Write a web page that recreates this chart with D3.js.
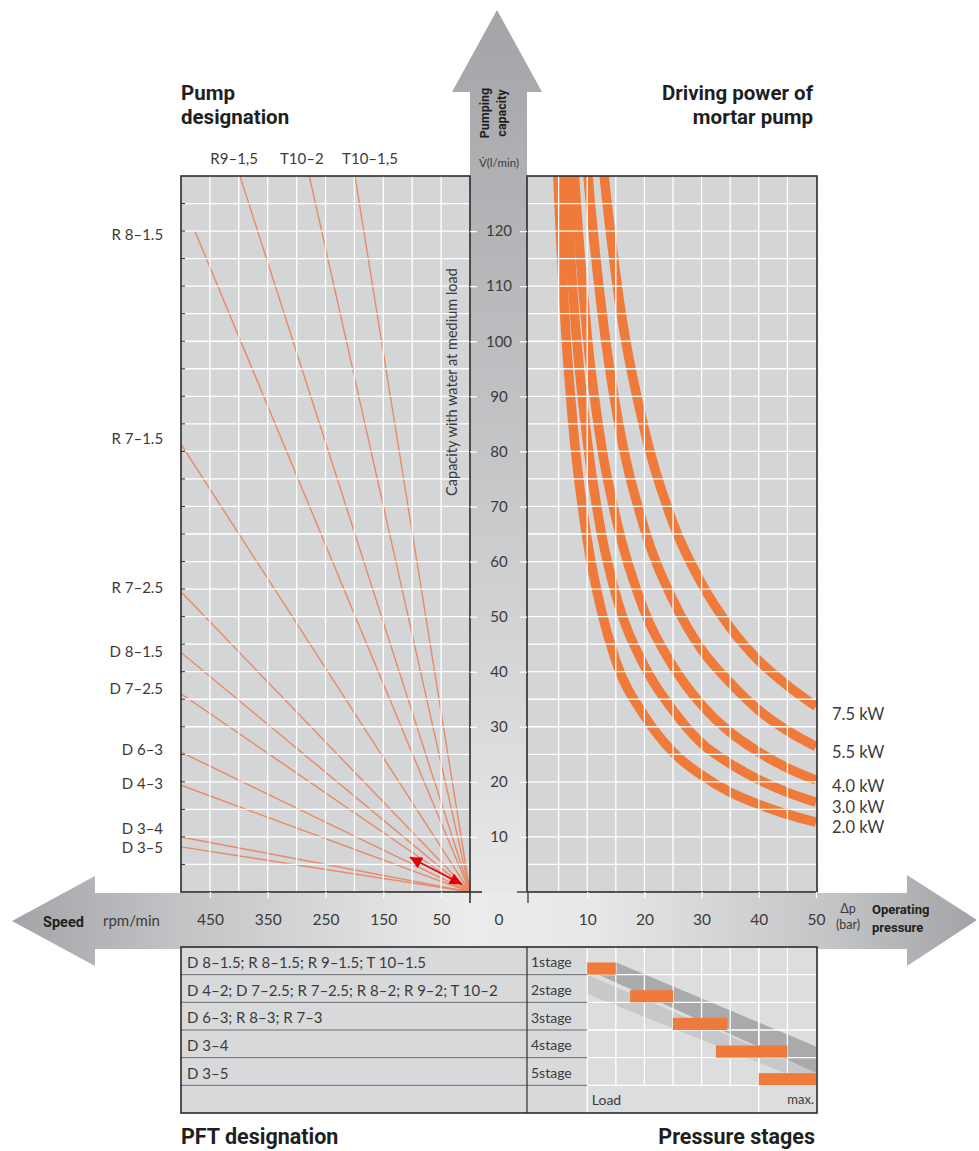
<!DOCTYPE html>
<html>
<head>
<meta charset="utf-8">
<script src="https://cdn.jsdelivr.net/npm/d3@7"></script>
<style>
body { margin: 0; background: #fff; }
svg text { font-family: Lato, "Open Sans", sans-serif; fill: #3b3b3b; }
svg text.ttl { font-family: Roboto, sans-serif; font-weight: 700; fill: #1f1f1f; }
</style>
</head>
<body>
<svg id="chart" width="979" height="1151"></svg>
<script>
"use strict";
// tick labels
const speedTicks = [450, 350, 250, 150, 50];
const pressureTicks = [10, 20, 30, 40, 50];
const capacityTicks = [10, 20, 30, 40, 50, 60, 70, 80, 90, 100, 110, 120];

// pump lines: end point of each line (rpm, l/min)
const pumpNames = ["R9\u20131,5", "T10\u20132", "T10\u20131,5", "R 8\u20131.5", "R 7\u20131.5", "R 7\u20132.5", "D 8\u20131.5", "D 7\u20132.5", "D 6\u20133", "D 4\u20133", "D 3\u20134", "D 3\u20135"];
const pumpEndRpm = [398, 278, 199, 476, 500, 500, 500, 500, 500, 500, 500, 500];
const pumpEndQ = [130, 130, 130, 120, 81.3, 54.5, 43.5, 36, 25.4, 19.4, 10, 8.2];
const pumpLabelRpm = [408, 291, 173, 531, 531, 531, 531, 531, 531, 531, 531, 531];
const pumpLabelQ = [133.2, 133.2, 133.2, 119.5, 82.5, 55.3, 43.8, 37, 26, 19.7, 11.6, 8.2];

// driving power curves (bar, l/min)
const kwLabels = ["7.5 kW", "5.5 kW", "4.0 kW", "3.0 kW", "2.0 kW"];
const kwLabelQ = [32.4, 25.5, 19.2, 15.4, 11.8];
const kw75 = [[11.5, 147], [12.5, 135], [15, 112], [20, 84], [25, 67], [30, 56], [35, 48], [40, 42], [45, 37.5], [50, 33.7]];
const kw55 = [[9, 147], [10, 132], [12.5, 106], [15, 88], [20, 66], [25, 53], [30, 44], [35, 38], [40, 33], [45, 29.3], [50, 26.4]];
const kw40 = [[7, 145], [7.5, 135], [10, 101], [12.5, 81], [15, 68], [20, 51], [25, 41], [30, 34], [35, 29], [40, 25.4], [45, 22.5], [50, 20.3]];
const kw30 = [[5.6, 146], [6, 136], [7.5, 109], [10, 82], [12.5, 65], [15, 54], [20, 41], [25, 33], [30, 27], [35, 23.3], [40, 20.4], [45, 18.1], [50, 16.3]];
const kw20 = [[4.3, 148], [4.7, 135], [6, 106], [7.5, 85], [10, 64], [12.5, 51], [15, 42], [20, 32], [25, 25.4], [30, 21.2], [35, 18.1], [40, 15.9], [45, 14.1], [50, 12.7]];
const powerCurves = [kw75, kw55, kw40, kw30, kw20];

// red double arrow near the origin (rpm, l/min)
const redArrow = [[104, 6.3], [14, 1.4]];

// pressure stage table
const pftGroups = ["D 8\u20131.5; R 8\u20131.5; R 9\u20131.5; T 10\u20131.5", "D 4\u20132; D 7\u20132.5; R 7\u20132.5; R 8\u20132; R 9\u20132; T 10\u20132", "D 6\u20133; R 8\u20133; R 7\u20133", "D 3\u20134", "D 3\u20135"];
const stageNames = ["1stage", "2stage", "3stage", "4stage", "5stage"];
const stageFrom = [10, 17.5, 25, 32.5, 40];
const stageTo = [15, 25, 34.5, 45, 50];

const svg = d3.select("#chart");
const defs = svg.append("defs");

const xRpm = d3.scaleLinear().domain([500, 0]).range([181, 470]);
const xP = d3.scaleLinear().domain([0, 50]).range([530, 816]);
const yQ = d3.scaleLinear().domain([0, 130]).range([892, 176]);
const row = d3.scaleBand().domain(d3.range(6)).range([947, 1113]);

// gradients for the big arrows
const hGrad = defs.append("linearGradient").attr("id", "hGrad")
	.attr("gradientUnits", "userSpaceOnUse").attr("x1", 12).attr("x2", 977).attr("y1", 0).attr("y2", 0);
[[0, "#a3a5a8"], [0.18, "#c2c4c6"], [0.47, "#ececec"], [0.6, "#e8e8e9"], [0.85, "#c3c4c6"], [1, "#a1a3a6"]]
	.forEach(s => hGrad.append("stop").attr("offset", s[0]).attr("stop-color", s[1]));
const vGrad = defs.append("linearGradient").attr("id", "vGrad")
	.attr("gradientUnits", "userSpaceOnUse").attr("x1", 0).attr("x2", 0).attr("y1", 10).attr("y2", 893);
[[0, "#a2a4a7"], [0.5, "#c3c5c7"], [1, "#e7e8e9"]]
	.forEach(s => vGrad.append("stop").attr("offset", s[0]).attr("stop-color", s[1]));

defs.append("clipPath").attr("id", "clipL").append("rect")
	.attr("x", 181).attr("y", 176).attr("width", 289).attr("height", 716);
defs.append("clipPath").attr("id", "clipR").append("rect")
	.attr("x", 527).attr("y", 176).attr("width", 290).attr("height", 716);

defs.append("marker").attr("id", "redHead")
	.attr("viewBox", "0 0 10 10").attr("refX", 10).attr("refY", 5)
	.attr("markerUnits", "userSpaceOnUse").attr("markerWidth", 15).attr("markerHeight", 12)
	.attr("orient", "auto-start-reverse")
	.append("path").attr("d", "M0,0L10,5L0,10Z").attr("fill", "#e3000b");

// big arrows
svg.append("path")
	.attr("d", "M12,921L95,876L95,893L907,893L907,875L977,920L907,966L907,949L95,949L95,966Z")
	.attr("fill", "url(#hGrad)");
svg.append("path")
	.attr("d", "M470,894L470,92L452,92L497,10L542,92L527,92L527,894Z")
	.attr("fill", "url(#vGrad)");

// ---------- left panel ----------
const left = svg.append("g");
left.append("rect").attr("x", 181).attr("y", 176).attr("width", 289).attr("height", 716).attr("fill", "#d4d5d7");
const lines = left.append("g").attr("clip-path", "url(#clipL)");
pumpNames.forEach((n, i) => {
	lines.append("line")
		.attr("x1", xRpm(0)).attr("y1", yQ(0))
		.attr("x2", xRpm(pumpEndRpm[i])).attr("y2", yQ(pumpEndQ[i]))
		.attr("stroke", "#e88a66").attr("stroke-width", 1.4);
});
const gridL = left.append("g").attr("stroke", "#fff").attr("stroke-width", 1.3);
d3.range(50, 500, 50).forEach(r => gridL.append("line")
	.attr("x1", xRpm(r)).attr("x2", xRpm(r)).attr("y1", 176).attr("y2", 892));
d3.range(5, 130, 5).forEach(q => gridL.append("line")
	.attr("x1", 181).attr("x2", 470).attr("y1", yQ(q)).attr("y2", yQ(q)));
d3.range(5, 130, 5).forEach(q => left.append("line")
	.attr("x1", 181).attr("x2", 185).attr("y1", yQ(q)).attr("y2", yQ(q))
	.attr("stroke", "#333").attr("stroke-width", 1));
left.append("rect").attr("x", 181).attr("y", 176).attr("width", 289).attr("height", 716)
	.attr("fill", "none").attr("stroke", "#2b2b2b").attr("stroke-width", 1.6);

left.append("path")
	.attr("d", d3.line()(redArrow.map(d => [xRpm(d[0]), yQ(d[1])])))
	.attr("stroke", "#e3000b").attr("stroke-width", 1.6).attr("fill", "none")
	.attr("marker-start", "url(#redHead)").attr("marker-end", "url(#redHead)");

pumpNames.forEach((n, i) => {
	left.append("text")
		.attr("x", xRpm(pumpLabelRpm[i])).attr("y", yQ(pumpLabelQ[i]))
		.attr("dominant-baseline", "central")
		.attr("text-anchor", i < 3 ? "middle" : "end")
		.attr("font-size", 15)
		.text(n);
});
left.append("text")
	.attr("transform", "translate(457,382) rotate(-90)")
	.attr("text-anchor", "middle").attr("font-size", 14.5)
	.text("Capacity with water at medium load");

// ---------- right panel ----------
const right = svg.append("g");
right.append("rect").attr("x", 527).attr("y", 176).attr("width", 290).attr("height", 716).attr("fill", "#d4d5d7");
const curves = right.append("g").attr("clip-path", "url(#clipR)");
const curveLine = d3.line().x(d => xP(d[0])).y(d => yQ(d[1])).curve(d3.curveMonotoneX);
powerCurves.forEach(c => curves.append("path")
	.attr("d", curveLine(c)).attr("fill", "none")
	.attr("stroke", "#ef7a3a").attr("stroke-width", 9.5));
const gridR = right.append("g").attr("stroke", "#fff").attr("stroke-width", 1.3);
d3.range(5, 50, 5).forEach(p => gridR.append("line")
	.attr("x1", xP(p)).attr("x2", xP(p)).attr("y1", 176).attr("y2", 892));
d3.range(5, 130, 5).forEach(q => gridR.append("line")
	.attr("x1", 527).attr("x2", 817).attr("y1", yQ(q)).attr("y2", yQ(q)));
right.append("rect").attr("x", 527).attr("y", 176).attr("width", 290).attr("height", 716)
	.attr("fill", "none").attr("stroke", "#2b2b2b").attr("stroke-width", 1.6);
kwLabels.forEach((k, i) => right.append("text")
	.attr("x", 832).attr("y", yQ(kwLabelQ[i])).attr("dominant-baseline", "central")
	.attr("font-size", 16.5).text(k));

// axis stubs at the origin
svg.append("line").attr("x1", 470).attr("x2", 482).attr("y1", 892).attr("y2", 892).attr("stroke", "#333").attr("stroke-width", 1.6);
svg.append("line").attr("x1", 470).attr("x2", 470).attr("y1", 892).attr("y2", 903).attr("stroke", "#333").attr("stroke-width", 1.6);
svg.append("line").attr("x1", 517).attr("x2", 527).attr("y1", 892).attr("y2", 892).attr("stroke", "#555").attr("stroke-width", 1.6);
svg.append("line").attr("x1", 528).attr("x2", 528).attr("y1", 892).attr("y2", 903).attr("stroke", "#555").attr("stroke-width", 1.6);

// ---------- axes ----------
function styleAxis(g) {
	g.select(".domain").remove();
	g.attr("font-family", null).attr("font-size", null);
	g.selectAll(".tick line").attr("stroke", "#fff").attr("stroke-width", 1.3);
	g.selectAll(".tick text").attr("fill", "#3b3b3b").attr("font-size", 15.5);
}
svg.append("g").attr("transform", "translate(0,892)")
	.call(d3.axisBottom(xRpm).tickValues(speedTicks).tickSize(6).tickPadding(16))
	.call(styleAxis);
svg.append("g").attr("transform", "translate(0,892)")
	.call(d3.axisBottom(xP).tickValues(pressureTicks).tickSize(6).tickPadding(16))
	.call(styleAxis);
const yAxisG = svg.append("g").attr("transform", "translate(470,0)")
	.call(d3.axisRight(yQ).tickValues(capacityTicks).tickSize(7))
	.call(styleAxis);
yAxisG.selectAll(".tick text").attr("x", 29).attr("text-anchor", "middle").attr("font-size", 15);
svg.append("g").attr("transform", "translate(527,0)")
	.call(d3.axisLeft(yQ).tickValues(capacityTicks).tickSize(7).tickFormat(""))
	.call(styleAxis);

svg.append("text").attr("x", 499).attr("y", 925).attr("text-anchor", "middle").attr("font-size", 15.5).text("0");
svg.append("text").attr("class", "ttl").attr("x", 43).attr("y", 927).attr("font-size", 14.5).text("Speed");
svg.append("text").attr("x", 103).attr("y", 926).attr("font-size", 15).text("rpm/min");
svg.append("text").attr("x", 848).attr("y", 913).attr("text-anchor", "middle").attr("font-size", 12.5).text("\u0394p");
svg.append("text").attr("x", 848).attr("y", 929).attr("text-anchor", "middle").attr("font-size", 12.5).text("(bar)");
svg.append("text").attr("class", "ttl").attr("x", 872).attr("y", 914).attr("font-size", 13).text("Operating");
svg.append("text").attr("class", "ttl").attr("x", 872).attr("y", 932).attr("font-size", 13).text("pressure");

svg.append("text").attr("class", "ttl").attr("transform", "translate(489,113) rotate(-90)")
	.attr("text-anchor", "middle").attr("font-size", 12.5).text("Pumping");
svg.append("text").attr("class", "ttl").attr("transform", "translate(506,113) rotate(-90)")
	.attr("text-anchor", "middle").attr("font-size", 12.5).text("capacity");
svg.append("text").attr("x", 499).attr("y", 167).attr("text-anchor", "middle").attr("font-size", 11.5).text("V\u0307(l/min)");

// titles
svg.append("text").attr("class", "ttl").attr("x", 181).attr("y", 100).attr("font-size", 20.5).text("Pump");
svg.append("text").attr("class", "ttl").attr("x", 181).attr("y", 124).attr("font-size", 20.5).text("designation");
svg.append("text").attr("class", "ttl").attr("x", 813).attr("y", 100).attr("text-anchor", "end").attr("font-size", 20.5).text("Driving power of");
svg.append("text").attr("class", "ttl").attr("x", 813).attr("y", 124).attr("text-anchor", "end").attr("font-size", 20.5).text("mortar pump");
svg.append("text").attr("class", "ttl").attr("x", 181).attr("y", 1144).attr("font-size", 21.5).text("PFT designation");
svg.append("text").attr("class", "ttl").attr("x", 815).attr("y", 1144).attr("text-anchor", "end").attr("font-size", 21.5).text("Pressure stages");

// ---------- pressure stage table ----------
const tbl = svg.append("g");
const rh = row.bandwidth();
tbl.append("rect").attr("x", 181).attr("y", 947).attr("width", 636).attr("height", 166).attr("fill", "#d8d9db");
tbl.append("rect").attr("x", xP(10)).attr("y", 947).attr("width", xP(50) - xP(10)).attr("height", 166).attr("fill", "#dcdddf");
const ry = r => 947 + r * rh;
const shade = (pts, col) => tbl.append("path")
	.attr("d", d3.line()(pts.map(d => [xP(d[0]), ry(d[1])])) + "Z").attr("fill", col);
shade([[10, 1.0], [50, 4.55], [50, 5.0], [10, 1.7]], "#c7c8ca");
shade([[15, 0.55], [50, 3.6], [50, 4.55], [12, 1.0]], "#a9aaac");
const gridT = tbl.append("g").attr("stroke", "#fff").attr("stroke-width", 1.3);
d3.range(15, 50, 5).forEach(p => gridT.append("line")
	.attr("x1", xP(p)).attr("x2", xP(p)).attr("y1", 947).attr("y2", ry(5)));
[10, 40].forEach(p => gridT.append("line")
	.attr("x1", xP(p)).attr("x2", xP(p)).attr("y1", 947).attr("y2", 1113));
d3.range(1, 6).forEach(r => {
	gridT.append("line").attr("x1", xP(10)).attr("x2", 817).attr("y1", ry(r)).attr("y2", ry(r));
	tbl.append("line").attr("x1", 181).attr("x2", xP(10)).attr("y1", ry(r)).attr("y2", ry(r))
		.attr("stroke", "#6e6e70").attr("stroke-width", 1);
});
stageNames.forEach((s, i) => {
	tbl.append("rect")
		.attr("x", xP(stageFrom[i])).attr("y", row(i) + rh * 0.56)
		.attr("width", xP(stageTo[i]) - xP(stageFrom[i])).attr("height", rh * 0.44)
		.attr("fill", "#ef7a3a");
	tbl.append("text").attr("x", 531).attr("y", row(i) + rh / 2 + 1)
		.attr("dominant-baseline", "central").attr("font-size", 14).text(s);
});
pftGroups.forEach((s, i) => tbl.append("text")
	.attr("x", 187).attr("y", row(i) + rh / 2 + 1)
	.attr("dominant-baseline", "central").attr("font-size", 15).text(s));
tbl.append("text").attr("x", xP(10.8)).attr("y", row(5) + rh / 2)
	.attr("dominant-baseline", "central").attr("font-size", 14).text("Load");
tbl.append("text").attr("x", 814).attr("y", row(5) + rh / 2)
	.attr("dominant-baseline", "central").attr("text-anchor", "end").attr("font-size", 13).text("max.");
tbl.append("line").attr("x1", 527).attr("x2", 527).attr("y1", 947).attr("y2", 1113)
	.attr("stroke", "#3a3a3a").attr("stroke-width", 1.3);
tbl.append("rect").attr("x", 181).attr("y", 947).attr("width", 636).attr("height", 166)
	.attr("fill", "none").attr("stroke", "#2b2b2b").attr("stroke-width", 1.6);
</script>
</body>
</html>
